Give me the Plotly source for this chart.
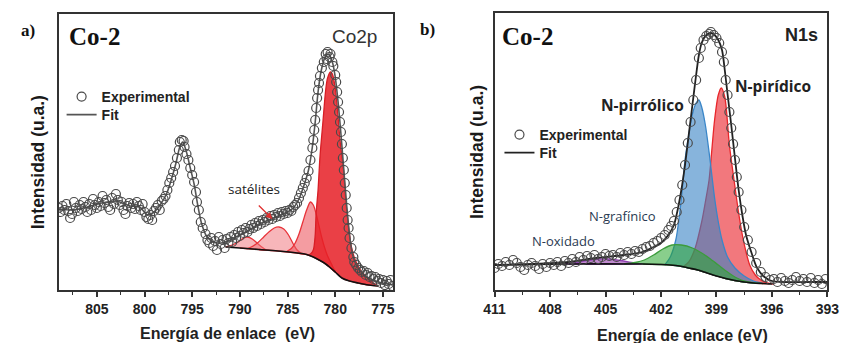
import plotly.graph_objects as go

W, H = 853, 343

# ---------------- Panel a) Co2p ----------------
co_exp_ev = [809.0, 808.8, 808.6, 808.4, 808.2, 808.0, 807.8, 807.6, 807.4, 807.2, 807.0, 806.8, 806.6, 806.4,
             806.2, 806.0, 805.8, 805.6, 805.4, 805.2, 805.0, 804.8, 804.6, 804.4, 804.2, 804.0, 803.8, 803.6,
             803.4, 803.2, 803.0, 802.8, 802.6, 802.4, 802.2, 802.0, 801.8, 801.6, 801.4, 801.2, 801.0, 800.8,
             800.6, 800.4, 800.2, 800.0, 799.8, 799.6, 799.4, 799.2, 799.0, 798.8, 798.6, 798.4, 798.2, 798.0,
             797.8, 797.6, 797.4, 797.2, 797.0, 796.8, 796.6, 796.4, 796.3, 796.1, 795.9, 795.8, 795.6, 795.4,
             795.2, 795.0, 794.8, 794.6, 794.5, 794.3, 794.1, 793.9, 793.6, 793.4, 793.2, 793.0, 792.8, 792.6,
             792.4, 792.2, 792.0, 791.8, 791.6, 791.4, 791.2, 791.0, 790.8, 790.6, 790.4, 790.2, 790.0, 789.8,
             789.6, 789.4, 789.2, 789.0, 788.8, 788.6, 788.4, 788.2, 788.0, 787.8, 787.6, 787.4, 787.2, 787.0,
             786.8, 786.6, 786.4, 786.2, 786.0, 785.8, 785.6, 785.4, 785.2, 785.0, 784.8, 784.6, 784.4, 784.2,
             784.0, 783.8, 783.6, 783.4, 783.2, 783.0, 782.8, 782.6, 782.4, 782.3, 782.2, 782.1, 782.0, 781.9,
             781.8, 781.7, 781.6, 781.4, 781.2, 781.0, 780.9, 780.8, 780.6, 780.5, 780.3, 780.2, 780.0, 779.9,
             779.8, 779.7, 779.6, 779.5, 779.4, 779.3, 779.2, 779.1, 779.0, 778.9, 778.8, 778.7, 778.6, 778.5,
             778.3, 778.1, 778.0, 777.8, 777.6, 777.4, 777.2, 777.0, 776.8, 776.6, 776.4, 776.2, 776.0, 775.8,
             775.6, 775.4, 775.2, 775.0, 774.8, 774.6, 774.4, 774.2, 774.0]
co_exp_int = [82, 78, 84, 80, 86, 79, 72, 76, 88, 82, 79, 85, 81, 88,
              83, 78, 86, 80, 91, 85, 82, 88, 84, 94, 87, 90, 83, 80,
              92, 86, 96, 90, 85, 88, 80, 76, 84, 87, 82, 86, 81, 88,
              84, 80, 86, 78, 73, 71, 75, 70, 79, 82, 85, 80, 89, 91,
              94, 100, 107, 112, 118, 124, 132, 140, 148, 150, 149, 143, 136, 130,
              122, 115, 108, 98, 88, 80, 68, 62, 56, 50, 47, 52, 44, 49,
              40, 53, 46, 50, 42, 51, 47, 53, 48, 55, 52, 58, 54, 60,
              57, 62, 58, 61, 65, 62, 67, 64, 69, 66, 70, 68, 72, 70,
              74, 71, 75, 73, 77, 74, 78, 76, 79, 77, 80, 79, 83, 85,
              87, 92, 97, 102, 107, 112, 119, 130, 142, 150, 160, 170, 182, 192,
              200, 207, 214, 222, 228, 236, 231, 238, 233, 236, 228, 224, 215, 208,
              198, 188, 178, 168, 158, 146, 132, 120, 107, 95, 82, 70, 62, 52,
              42, 33, 28, 25, 22, 20, 18, 19, 15, 17, 13, 14, 11, 13,
              9, 11, 7, 10, 5, 9, 6, 10, 4]

co_fit_ev = [809, 807.5, 806, 804.5, 803, 801.5, 800.5, 799.7, 799, 798.3, 797.7, 797.2, 796.7, 796.3, 796.0,
             795.6, 795.2, 794.8, 794.4, 794.0, 793.5, 792.8, 792.0, 791.0, 790.0, 789.0, 788.0, 787.0, 786.0,
             785.0, 784.4, 783.8, 783.3, 782.8, 782.4, 782.1, 781.8, 781.5, 781.1, 780.7, 780.3, 780.0, 779.7,
             779.4, 779.1, 778.8, 778.5, 778.2, 777.8, 777.2, 776.5, 775.5, 774.0]
co_fit_int = [81, 80, 83, 87, 89, 84, 83, 75, 78, 86, 96, 110, 127, 143, 148,
              138, 122, 106, 84, 66, 54, 48, 47, 50, 55, 60, 66, 70, 74,
              78, 82, 91, 104, 120, 143, 168, 198, 218, 232, 236, 228, 213, 188,
              156, 120, 85, 55, 36, 25, 17, 12, 8, 5]

co_bg_ev = [791.5, 790, 788, 786, 784, 783, 782.3, 781.5, 781, 780.6, 780, 779.3, 778.5, 777.6, 776.5, 775.5]
co_bg_int = [43, 42, 40.5, 39, 37, 35.5, 33, 29, 26, 23, 18, 12, 9, 7, 5, 4]

co_sat1_ev = [791.5, 790.8, 790.2, 789.7, 789.2, 788.7, 788.2, 787.7, 787.2, 786.9]
co_sat1_int = [43, 45, 48, 51.5, 53, 51, 47, 43, 40, 39.5]

co_sat2_ev = [789.3, 788.7, 788.1, 787.5, 786.9, 786.4, 785.9, 785.4, 784.9, 784.4, 784.0, 783.6, 783.2]
co_sat2_int = [41, 43.5, 47.5, 53, 58.5, 62, 63, 61, 55, 46, 40, 37, 35.5]

co_p3_ev = [785.1, 784.6, 784.2, 783.8, 783.4, 783.0, 782.6, 782.3, 782.0, 781.7, 781.4, 781.1, 780.8, 780.5, 780.2, 780.0]
co_p3_int = [38.5, 41.5, 47, 56, 68, 80, 88, 85, 76, 64, 52, 42, 34, 28, 22, 18]

co_main_ev = [782.9, 782.6, 782.3, 782.1, 782.0, 781.8, 781.6, 781.3, 781.0, 780.8, 780.5, 780.3, 780.0, 779.8,
              779.5, 779.1, 778.9, 778.6, 778.3, 777.9, 777.3, 776.6, 776.0, 775.5]
co_main_int = [35, 36, 40, 55, 77, 100, 133, 167, 200, 212, 218, 216, 202, 184,
               150, 117, 90, 63, 43, 30, 19, 12, 7, 4]

# ---------------- Panel b) N1s ----------------
n_exp_ev = [411.0, 410.8, 410.6, 410.4, 410.2, 410.0, 409.8, 409.6, 409.4, 409.2, 409.0, 408.8, 408.6, 408.4,
            408.2, 408.0, 407.8, 407.6, 407.4, 407.2, 407.0, 406.8, 406.6, 406.4, 406.2, 406.0, 405.8, 405.6,
            405.4, 405.2, 405.0, 404.8, 404.6, 404.4, 404.2, 404.0, 403.8, 403.6, 403.4, 403.2, 403.0, 402.8,
            402.6, 402.4, 402.2, 402.0, 401.8, 401.6, 401.45, 401.3, 401.15, 401.0, 400.85, 400.7, 400.55,
            400.4, 400.25, 400.1, 399.95, 399.85, 399.7, 399.55, 399.4, 399.3, 399.15, 399.0, 398.85, 398.7,
            398.6, 398.5, 398.4, 398.3, 398.2, 398.1, 398.0, 397.9, 397.8, 397.65, 397.5, 397.3, 397.1, 396.85,
            396.6, 396.35, 396.1, 395.9, 395.7, 395.5, 395.3, 395.1, 394.9, 394.7, 394.5, 394.3, 394.1, 393.9,
            393.7, 393.5, 393.3, 393.1]
n_exp_int = [22, 26, 24, 28, 25, 30, 27, 23, 20, 25, 27, 24, 21, 26,
             23, 27, 25, 28, 24, 29, 27, 31, 28, 33, 30, 34, 32, 35,
             31, 33, 36, 34, 35, 33, 37, 35, 38, 36, 39, 38, 41, 43,
             44, 47, 49, 52, 55, 60, 64, 69, 78, 90, 105, 125, 147,
             168, 190, 210, 232, 242, 250, 254, 256, 258, 255, 252, 247, 238,
             228, 210, 195, 178, 162, 146, 130, 113, 98, 80, 63, 50, 38, 27,
             18, 13, 10, 11, 8, 12, 9, 7, 10, 13, 9, 11, 8, 12,
             7, 10, 6, 11]

n_fit_ev = [411, 409, 407, 405.5, 404, 403, 402.5, 402, 401.6, 401.3, 401.1, 400.9, 400.7, 400.5, 400.3, 400.1,
            399.95, 399.8, 399.6, 399.3, 399.1, 398.9, 398.7, 398.55, 398.4, 398.2, 398.0, 397.8, 397.6, 397.4,
            397.1, 396.8, 396.4, 396.0, 395.5, 394, 393]
n_fit_int = [25, 26, 28, 32, 35, 38, 42, 47, 55, 65, 80, 100, 125, 155, 185, 215,
             235, 247, 254, 257, 255, 250, 240, 220, 196, 165, 132, 100, 75, 55,
             37, 22, 13, 9, 8, 8, 8]

n_bg_ev = [411, 407, 403, 402, 401.5, 401, 400.5, 400, 399.5, 399, 398.5, 398, 397.5, 397, 396.5, 396]
n_bg_int = [25, 26, 26, 25.5, 25, 24, 22, 20, 17, 14, 11.5, 9.5, 8, 7, 6.5, 6]

n_oxi_ev = [407.2, 406.6, 406.0, 405.4, 404.8, 404.2, 403.6, 403.0]
n_oxi_int = [26, 27.5, 29.5, 31, 31, 29.5, 27.5, 26]

n_graf_ev = [404.0, 403.4, 402.9, 402.4, 401.9, 401.4, 400.9, 400.3, 399.8, 399.4, 398.9, 398.4, 397.9, 397.4, 396.9, 396.5]
n_graf_int = [26, 27.5, 30, 35, 41, 45, 45, 42, 37, 32, 25, 18, 12, 8.5, 7, 6.5]

n_pirrol_ev = [401.8, 401.5, 401.2, 401.0, 400.85, 400.7, 400.5, 400.3, 400.1, 399.95, 399.8, 399.6, 399.4,
               399.25, 399.1, 398.9, 398.7, 398.4, 398.0, 397.5, 397.0, 396.5]
n_pirrol_int = [25, 33, 50, 75, 100, 130, 155, 176, 187, 190, 183, 165, 138,
                115, 92, 68, 50, 33, 22, 14, 9, 6.5]

n_pirid_ev = [400.8, 400.5, 400.15, 399.8, 399.6, 399.4, 399.25, 399.1, 398.9, 398.74, 398.55, 398.3, 398.05,
              397.8, 397.6, 397.4, 397.2, 396.9, 396.6, 396.2, 395.9]
n_pirid_int = [23.5, 28, 42, 68, 88, 110, 140, 170, 195, 202, 193, 145, 110,
               77, 55, 38, 25, 15, 10, 7, 6]

# x-axis ticks
co_tick0, co_dtick = 775, 5
n_tick0, n_dtick = 393, 3


def region(px, py, bx, by):
    lo, hi = min(px), max(px)
    pts = sorted([(x, y) for x, y in zip(bx, by) if lo < x < hi])
    return list(px) + [p[0] for p in pts], list(py) + [p[1] for p in pts]


def comp(px, py, bx, by, fillc, linec, xa, ya):
    xs, ys = region(px, py, bx, by)
    return go.Scatter(x=xs, y=ys, mode="lines", fill="toself", fillcolor=fillc,
                      line=dict(color=linec, width=1.3, shape="spline", smoothing=0.8),
                      xaxis=xa, yaxis=ya, showlegend=False, hoverinfo="skip")


MARK = dict(symbol="circle-open", size=9, color="#4a4a4a", line=dict(width=1.2))

fig = go.Figure()

# panel a components
fig.add_trace(comp(co_sat1_ev, co_sat1_int, co_bg_ev, co_bg_int, "rgba(240,110,118,0.5)", "#e8333a", "x", "y"))
fig.add_trace(comp(co_sat2_ev, co_sat2_int, co_bg_ev, co_bg_int, "rgba(240,110,118,0.5)", "#e8333a", "x", "y"))
fig.add_trace(comp(co_p3_ev, co_p3_int, co_bg_ev, co_bg_int, "rgba(236,90,98,0.6)", "#e8333a", "x", "y"))
fig.add_trace(comp(co_main_ev, co_main_int, co_bg_ev, co_bg_int, "rgba(230,30,38,0.85)", "#d81e26", "x", "y"))
fig.add_trace(go.Scatter(x=co_bg_ev, y=co_bg_int, mode="lines", line=dict(color="#111", width=1.6, shape="spline"),
                         xaxis="x", yaxis="y", showlegend=False, hoverinfo="skip"))
fig.add_trace(go.Scatter(x=co_fit_ev, y=co_fit_int, mode="lines", name="Fit", legend="legend3",
                         line=dict(color="#555", width=1.6, shape="spline", smoothing=0.8), xaxis="x", yaxis="y"))
fig.add_trace(go.Scatter(x=co_exp_ev, y=co_exp_int, mode="markers", name="Experimental", legend="legend",
                         marker=MARK, xaxis="x", yaxis="y"))

# panel b components
fig.add_trace(comp(n_oxi_ev, n_oxi_int, n_bg_ev, n_bg_int, "rgba(150,60,175,0.6)", "#9040b0", "x2", "y2"))
fig.add_trace(comp(n_pirid_ev, n_pirid_int, n_bg_ev, n_bg_int, "rgba(235,48,55,0.65)", "#e8262b", "x2", "y2"))
fig.add_trace(comp(n_pirrol_ev, n_pirrol_int, n_bg_ev, n_bg_int, "rgba(55,130,197,0.6)", "#3a86c8", "x2", "y2"))
fig.add_trace(comp(n_graf_ev, n_graf_int, n_bg_ev, n_bg_int, "rgba(40,165,45,0.55)", "#3c9c3c", "x2", "y2"))
fig.add_trace(go.Scatter(x=n_bg_ev, y=n_bg_int, mode="lines", line=dict(color="#111", width=1.6, shape="spline"),
                         xaxis="x2", yaxis="y2", showlegend=False, hoverinfo="skip"))
fig.add_trace(go.Scatter(x=n_fit_ev, y=n_fit_int, mode="lines", name="Fit", legend="legend4",
                         line=dict(color="#222", width=1.8, shape="spline", smoothing=0.8), xaxis="x2", yaxis="y2"))
fig.add_trace(go.Scatter(x=n_exp_ev, y=n_exp_int, mode="markers", name="Experimental", legend="legend2",
                         marker=MARK, xaxis="x2", yaxis="y2"))

SANS = "Liberation Sans"
SERIF = "Liberation Serif"
HUM = "Open Sans"

xcommon = dict(showline=True, linecolor="#333", linewidth=2, mirror=True, ticks="outside", ticklen=5,
               tickwidth=1.5, tickcolor="#333", showgrid=False, zeroline=False,
               tickfont=dict(family=SANS, size=14, color="#222", weight="bold"), tickmode="linear")
ycommon = dict(showline=True, linecolor="#333", linewidth=2, mirror=True, ticks="", showticklabels=False,
               showgrid=False, zeroline=False)


def leg(px, py):
    return dict(x=px / W, y=1 - py / H, xanchor="left", yanchor="middle", bgcolor="rgba(0,0,0,0)",
                font=dict(family=SANS, size=14, color="#222", weight="bold"), tracegroupgap=0, itemwidth=30)


fig.update_layout(
    width=W, height=H, margin=dict(l=0, r=0, t=0, b=0, pad=0),
    paper_bgcolor="white", plot_bgcolor="white",
    xaxis=dict(domain=[49 / W, 393 / W], range=[809, 773.9], tick0=co_tick0, dtick=co_dtick,
               minor=dict(ticks="outside", ticklen=3, tickwidth=1.2, tickcolor="#333", dtick=2.5), **xcommon),
    yaxis=dict(domain=[1 - 290 / H, 1 - 14 / H], range=[0, 276], **ycommon),
    xaxis2=dict(domain=[497 / W, 839 / W], range=[411, 393], tick0=n_tick0, dtick=n_dtick,
                minor=dict(ticks="outside", ticklen=3, tickwidth=1.2, tickcolor="#333", dtick=1.5), **xcommon),
    yaxis2=dict(domain=[1 - 290 / H, 1 - 13 / H], range=[0, 277], anchor="x2", **ycommon),
    legend=leg(52, 97),
    legend3=leg(52, 115),
    legend2=leg(502, 135),
    legend4=leg(502, 153),
    showlegend=True,
)
fig.layout.xaxis2.anchor = "y2"


def ann(text, px, py, size, family=SANS, color="#222", weight="normal", angle=0):
    fig.add_annotation(text=text, x=px / W, y=1 - py / H, xref="paper", yref="paper", showarrow=False,
                       xanchor="center", yanchor="middle", textangle=angle,
                       font=dict(family=family, size=size, color=color, weight=weight))


ann("a)", 17, 31, 17, SERIF, "#111", "bold")
ann("b)", 428, 30, 17, SERIF, "#111", "bold")
ann("Co-2", 86, 37, 25, SERIF, "#111", "bold")
ann("Co-2", 531, 37, 25, SERIF, "#111", "bold")
ann("Co2p", 353, 36, 19, SANS, "#333")
ann("N1s", 812, 35, 18, SANS, "#222", "bold")
ann("Intensidad (u.a.)", 28, 162, 17.5, SANS, "#1a1a1a", "bold", -90)
ann("Intensidad (u.a.)", 479, 152, 17.5, SANS, "#1a1a1a", "bold", -90)
ann("Energía de enlace\u00a0 (eV)", 222, 333, 16, SANS, "#222", "bold")
ann("Energía de enlace (eV)", 690, 335, 16, SANS, "#222", "bold")
ann("satélites", 250, 189, 13.5, HUM, "#222")
ann("N-pirrólico", 649, 105, 15.5, HUM, "#222", "bold")
ann("N-pirídico", 783, 86, 15.5, HUM, "#222", "bold")
ann("N-grafínico", 628, 216, 13, HUM, "#2a3a52")
ann("N-oxidado", 568, 241, 13, HUM, "#2a3a52")

# arrow pointing to satellites
fig.add_annotation(x=786.6, y=71, xref="x", yref="y", ax=-15, ay=-15, axref="pixel", ayref="pixel",
                   showarrow=True, arrowhead=2, arrowsize=1, arrowwidth=1.3, arrowcolor="#e03030", text="")

fig.write_html("out.html")
